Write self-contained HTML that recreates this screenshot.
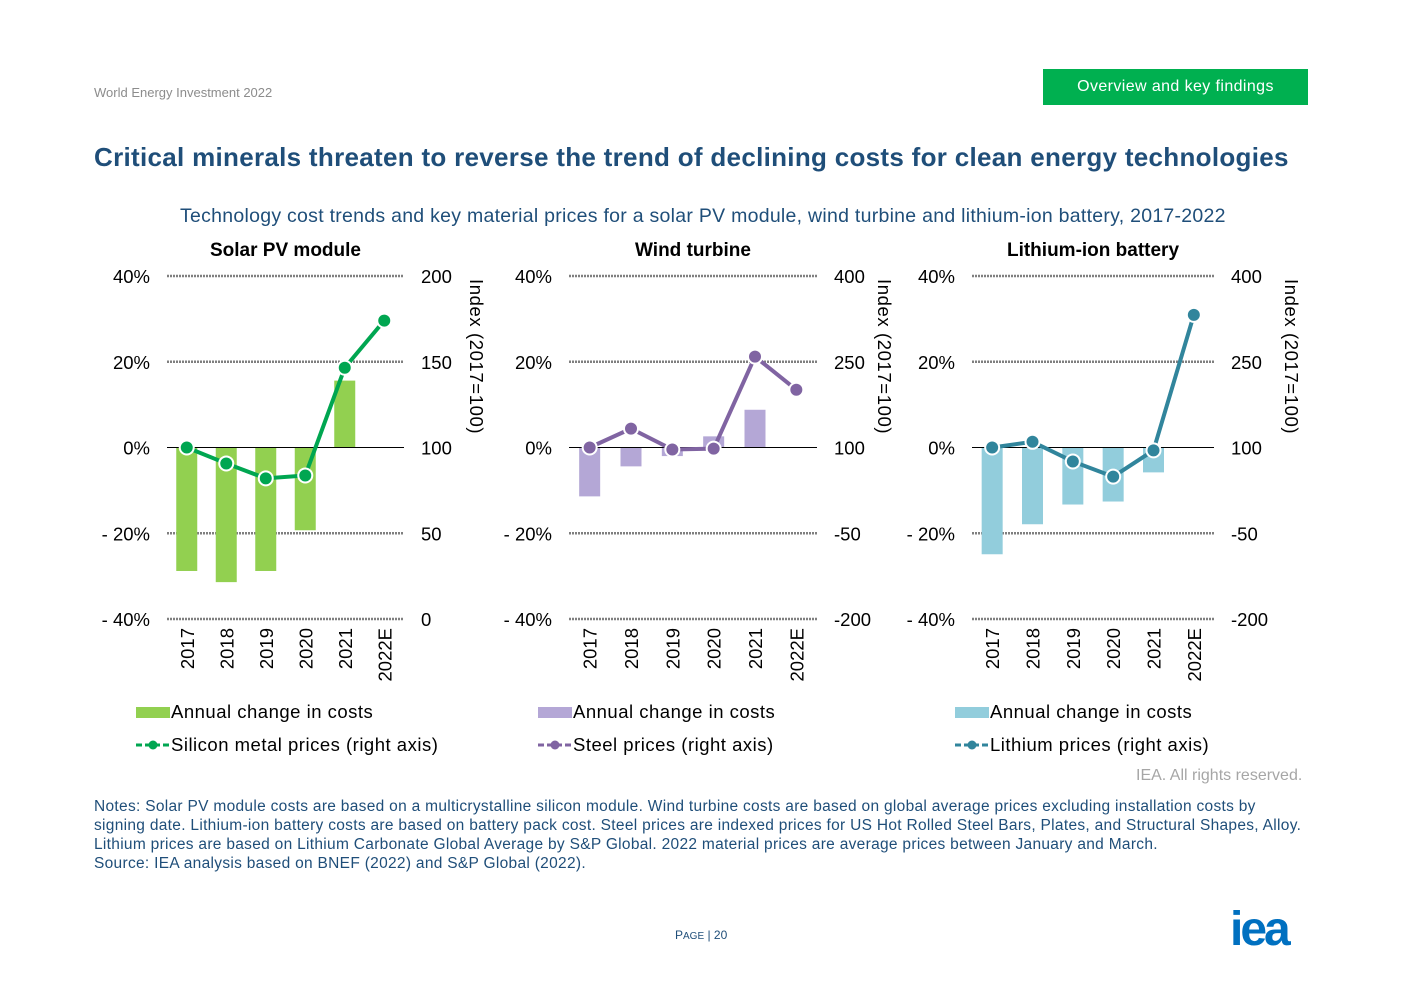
<!DOCTYPE html>
<html><head><meta charset="utf-8">
<style>
body{margin:0;width:1403px;height:992px;background:#fff;font-family:"Liberation Sans",Arial,sans-serif;position:relative;overflow:hidden}
.a{position:absolute;white-space:nowrap}
</style></head><body>
<div class="a" style="left:94px;top:85px;font-size:13px;color:#8c8c8c">World Energy Investment 2022</div>
<div class="a" style="left:1043px;top:69px;width:265px;height:36px;background:#00b050;color:#fff;font-size:16px;letter-spacing:0.4px;line-height:36px;text-align:center">Overview and key findings</div>
<div class="a" style="left:94px;top:142px;font-size:26px;letter-spacing:0.3px;font-weight:bold;color:#1f4e79">Critical minerals threaten to reverse the trend of declining costs for clean energy technologies</div>
<div class="a" style="left:180px;top:205px;font-size:19.5px;letter-spacing:0.27px;color:#1f4e79">Technology cost trends and key material prices for a solar PV module, wind turbine and lithium-ion battery, 2017-2022</div>
<svg id="chart" width="1403" height="992" style="position:absolute;left:0;top:0"></svg>
<div class="a" style="left:1136px;top:767px;font-size:16px;color:#a6a6a6">IEA. All rights reserved.</div>
<div class="a" style="left:94px;top:797px;font-size:15.5px;letter-spacing:0.3px;line-height:19px;color:#1f4e79;white-space:normal;width:1215px">Notes: Solar PV module costs are based on a multicrystalline silicon module. Wind turbine costs are based on global average prices excluding installation costs by signing date. Lithium-ion battery costs are based on battery pack cost. Steel prices are indexed prices for US Hot Rolled Steel Bars, Plates, and Structural Shapes, Alloy. Lithium prices are based on Lithium Carbonate Global Average by S&amp;P Global. 2022 material prices are average prices between January and March.<br>Source: IEA analysis based on BNEF (2022) and S&amp;P Global (2022).</div>
<div class="a" style="left:675px;top:928px;font-size:12px;color:#1f4e79">P<span style="font-size:10px">AGE</span> | 20</div>
<div class="a" style="left:1230px;top:902px;font-size:48px;font-weight:bold;color:#0070c0;letter-spacing:-3px">iea</div>
<script>
const years=["2017","2018","2019","2020","2021","2022E"];
const leftTicks=["40%","20%","0%","- 20%","- 40%"];
const solarBars=[-28.8,-31.4,-28.8,-19.3,15.6,null];
const siliconPrices=[100,90.7,82,83.7,146.5,174];
const solarRightTicks=["200","150","100","50","0"];
const windBars=[-11.4,-4.4,-2,2.6,8.8,null];
const steelPrices=[100,133,96.5,98,259,201];
const windRightTicks=["400","250","100","-50","-200"];
const battBars=[-24.9,-17.9,-13.3,-12.6,-5.8,null];
const lithiumPrices=[100,110,75.6,49,95,332];
const battRightTicks=["400","250","100","-50","-200"];
const svg=document.getElementById('chart');
const NS='http://www.w3.org/2000/svg';
function mk(t,at,txt){const e=document.createElementNS(NS,t);for(const k in at)e.setAttribute(k,at[k]);if(txt!==undefined)e.textContent=txt;svg.appendChild(e);return e;}
const yTop=276,yBot=619;
function panel(o){
  const {x0,x1,title,bars,prices,rmin,rmax,rticks,barCol,lineCol,lineLabel,name,rtitleX,legX}=o;
  const yL=v=>yTop+(40-v)/80*(yBot-yTop);
  const yR=v=>yTop+(rmax-v)/(rmax-rmin)*(yBot-yTop);
  const step=(x1-x0)/years.length;
  const xc=i=>x0+step*(i+0.5);
  let t=mk('text',{x:(x0+x1)/2,y:256,'text-anchor':'middle','font-size':19,'font-weight':'bold',fill:'#000'},title);
  
  leftTicks.forEach((l,i)=>{const y=yTop+i*(yBot-yTop)/4;
    if(i!==2){const g=mk('line',{x1:x0,x2:x1,y1:y,y2:y,stroke:'#7f7f7f','stroke-width':2.5,'stroke-dasharray':'2 1'});}
    const a=mk('text',{x:x0-17,y:y+7,'text-anchor':'end','font-size':18.5},l);
    const b=mk('text',{x:x1+17,y:y+7,'font-size':18.5},rticks[i]);});
  bars.forEach((v,i)=>{if(v===null)return;const y0=yL(0),y=yL(v);
    const r=mk('rect',{x:xc(i)-10.5,y:Math.min(y0,y),width:21,height:Math.abs(y-y0),fill:barCol});
    });
  const z=mk('line',{x1:x0,x2:x1,y1:yL(0),y2:yL(0),stroke:'#000','stroke-width':1});
  
  const p=mk('polyline',{points:prices.map((v,i)=>xc(i)+','+yR(v)).join(' '),fill:'none',stroke:lineCol,'stroke-width':4});
  
  prices.forEach((v,i)=>{const c=mk('circle',{cx:xc(i),cy:yR(v),r:7,fill:lineCol,stroke:'#fff','stroke-width':2});
    });
  years.forEach((yr,i)=>{const tx=mk('text',{transform:`translate(${xc(i)+7},${yBot+9}) rotate(-90)`,'text-anchor':'end','font-size':18.5},yr);
    });
  const rt=mk('text',{transform:`translate(${rtitleX},${yTop+3}) rotate(90)`,'font-size':18.5,'letter-spacing':'0.6'},'Index (2017=100)');
  
  const lr=mk('rect',{x:legX,y:707,width:34,height:11,fill:barCol});
  const lt=mk('text',{x:legX+35,y:718,'font-size':18.5,'letter-spacing':'0.5'},'Annual change in costs');
  const ll=mk('line',{x1:legX,x2:legX+34,y1:745,y2:745,stroke:lineCol,'stroke-width':3,'stroke-dasharray':'6 3'});
  const lc=mk('circle',{cx:legX+17,cy:745,r:4.5,fill:lineCol});
  const l2=mk('text',{x:legX+35,y:751,'font-size':18.5,'letter-spacing':'0.5'},lineLabel);
}
panel({x0:167,x1:404,title:'Solar PV module',bars:solarBars,prices:siliconPrices,rmin:0,rmax:200,rticks:solarRightTicks,barCol:'#92d050',lineCol:'#00a651',lineLabel:'Silicon metal prices (right axis)',name:'solar',rtitleX:470,legX:136});
panel({x0:569,x1:817,title:'Wind turbine',bars:windBars,prices:steelPrices,rmin:-200,rmax:400,rticks:windRightTicks,barCol:'#b4a7d6',lineCol:'#8064a2',lineLabel:'Steel prices (right axis)',name:'wind',rtitleX:878,legX:538});
panel({x0:972,x1:1214,title:'Lithium-ion battery',bars:battBars,prices:lithiumPrices,rmin:-200,rmax:400,rticks:battRightTicks,barCol:'#92cddc',lineCol:'#31859c',lineLabel:'Lithium prices (right axis)',name:'battery',rtitleX:1285,legX:955});
</script>
</body></html>
